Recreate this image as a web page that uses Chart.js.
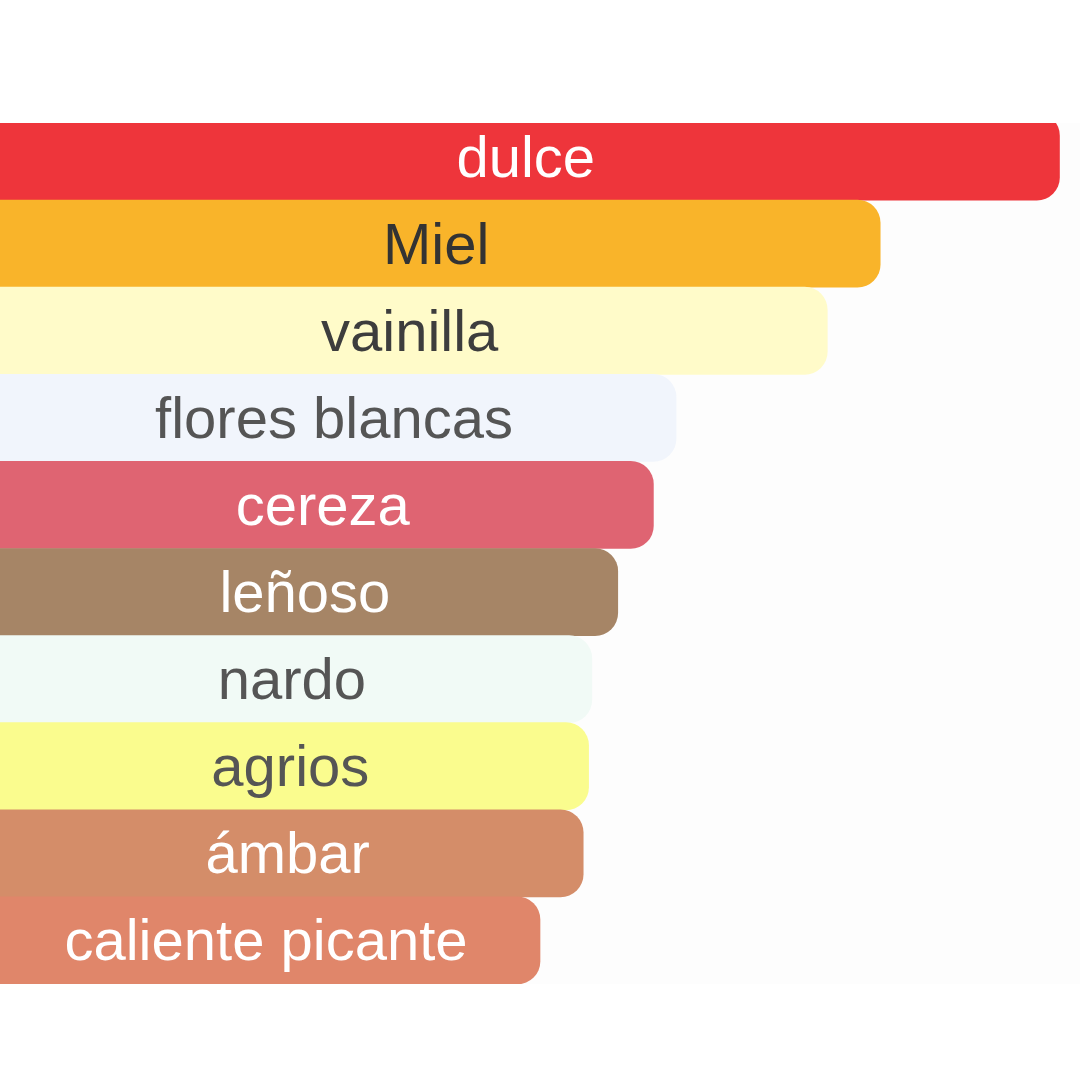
<!DOCTYPE html>
<html>
<head>
<meta charset="utf-8">
<script src="https://cdn.jsdelivr.net/npm/chart.js@4"></script>
<style>
  html, body { margin: 0; padding: 0; background: #ffffff; }
  #wrap { width: 1080px; height: 1080px; position: relative; }
</style>
</head>
<body>
<div id="wrap"><canvas id="c" width="1080" height="1080"></canvas></div>
<script>
const categories = ["dulce", "Miel", "vainilla", "flores blancas", "cereza", "leñoso", "nardo", "agrios", "ámbar", "caliente picante"];
const values = [98.1, 81.5, 76.6, 62.6, 60.5, 57.2, 54.8, 54.5, 54.0, 50.0];
const barColors = ["#EE353B", "#F9B42A", "#FFFBC9", "#F1F5FC", "#DF6472", "#A68566", "#F1FAF6", "#FAFC8E", "#D48D69", "#E0866A"];
const labelColors = ["#FFFFFF", "#333333", "#3D3D3D", "#555555", "#FFFFFF", "#FFFFFF", "#555555", "#555555", "#FFFFFF", "#FFFFFF"];

const areaBg = {
  id: 'areaBg',
  beforeDraw(chart) {
    const { ctx, chartArea } = chart;
    ctx.save();
    ctx.fillStyle = '#FDFDFD';
    ctx.fillRect(0, chartArea.top + 10, chart.width, chartArea.bottom - chartArea.top - 10);
    ctx.restore();
  }
};

const barLabels = {
  id: 'barLabels',
  afterDatasetsDraw(chart) {
    const { ctx } = chart;
    const meta = chart.getDatasetMeta(0);
    ctx.save();
    ctx.font = '58px "Liberation Sans", Arial, sans-serif';
    ctx.textAlign = 'center';
    ctx.textBaseline = 'middle';
    meta.data.forEach((el, i) => {
      const cx = (el.x + el.base) / 2 - 4;
      ctx.fillStyle = labelColors[i];
      ctx.fillText(categories[i], cx, el.y + 4);
    });
    ctx.restore();
  }
};

new Chart(document.getElementById('c'), {
  type: 'bar',
  data: {
    labels: categories,
    datasets: [{
      data: values,
      backgroundColor: barColors,
      borderWidth: 0,
      borderRadius: 23,
      borderSkipped: 'start',
      categoryPercentage: 1,
      barPercentage: 1,
      clip: { left: 0, top: -10, right: 0, bottom: 0 }
    }]
  },
  options: {
    indexAxis: 'y',
    responsive: false,
    animation: false,
    devicePixelRatio: 1,
    layout: { padding: { top: 113, bottom: 96, left: 0, right: 0 } },
    scales: {
      x: { display: false, min: 0, max: 100 },
      y: { display: false }
    },
    plugins: {
      legend: { display: false },
      tooltip: { enabled: false }
    }
  },
  plugins: [areaBg, barLabels]
});
</script>
</body>
</html>
